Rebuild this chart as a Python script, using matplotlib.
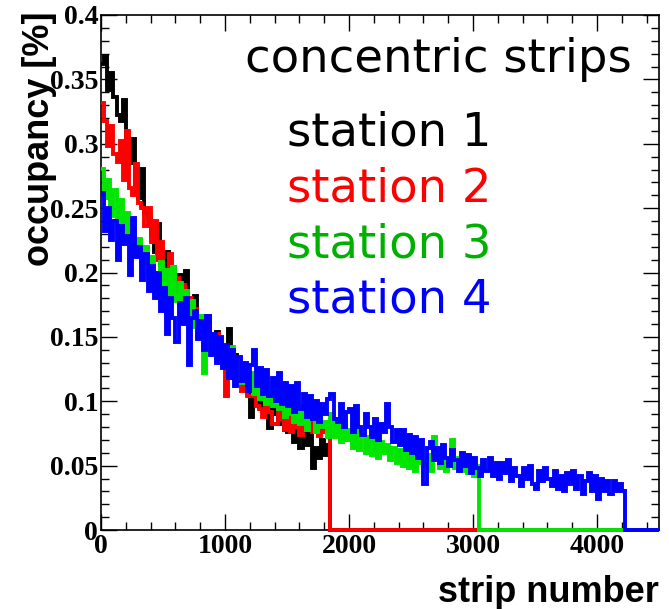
import numpy as np
import matplotlib
matplotlib.use('Agg')
import matplotlib.pyplot as plt
from matplotlib.ticker import MultipleLocator, FuncFormatter

# occupancy per bin of 25 strips, in units of 0.001 %
bin_width = 25
x_max = 4500

station1 = [362, 368, 342, 355, 336, 322, 318, 334, 292, 285, 304, 268,
            258, 280, 246, 243, 228, 216, 238, 206, 202, 216, 192, 204,
            186, 198, 176, 201, 172, 162, 182, 154, 162, 144, 160, 142,
            146, 154, 132, 142, 126, 156, 122, 136, 118, 112, 128, 106,
            88, 110, 100, 96, 108, 92, 79, 100, 90, 82, 98, 78,
            76, 90, 68, 84, 64, 80, 66, 76, 48, 64, 56, 70,
            58, 66]

station2 = [332, 318, 298, 314, 292, 286, 302, 272, 310, 266, 260, 284,
            254, 250, 236, 250, 224, 240, 210, 224, 202, 196, 214, 186,
            196, 178, 190, 168, 180, 160, 172, 154, 164, 148, 166, 142,
            138, 152, 132, 130, 104, 128, 118, 134, 116, 108, 126, 104,
            104, 116, 96, 94, 88, 104, 92, 82, 82, 94, 86, 78,
            88, 76, 92, 80, 74, 86, 78, 88, 76, 84, 73, 82,
            76, 80]

station3 = [280, 258, 272, 244, 264, 236, 256, 228, 246, 222, 240, 216,
            226, 206, 220, 198, 212, 192, 200, 208, 188, 202, 180, 204,
            178, 192, 168, 186, 160, 178, 158, 150, 166, 122, 152, 140,
            150, 132, 148, 128, 138, 124, 142, 118, 130, 114, 126, 110,
            122, 106, 118, 102, 112, 98, 114, 96, 106, 94, 108, 88,
            100, 90, 84, 98, 82, 96, 78, 98, 88, 76, 94, 80,
            84, 72, 90, 72, 82, 68, 84, 70, 78, 64, 80, 62,
            74, 60, 72, 58, 70, 56, 68, 60, 66, 54, 64, 52,
            62, 50, 60, 48, 60, 46, 58, 52, 50, 58, 46, 72,
            54, 48, 58, 46, 52, 70, 48, 56, 46, 54, 44, 52,
            42, 50]

station4 = [262, 232, 250, 225, 240, 210, 236, 222, 228, 198, 242, 212,
            220, 194, 214, 186, 205, 180, 200, 170, 188, 152, 180, 165,
            146, 176, 160, 180, 128, 165, 170, 148, 162, 140, 166, 136,
            152, 130, 150, 126, 144, 118, 140, 112, 134, 116, 130, 108,
            128, 140, 112, 126, 106, 124, 104, 118, 100, 122, 98, 114,
            96, 112, 92, 114, 94, 106, 88, 104, 86, 100, 84, 98,
            90, 102, 106, 86, 84, 98, 80, 92, 94, 76, 96, 80,
            74, 90, 80, 72, 86, 70, 82, 76, 98, 80, 68, 78,
            66, 78, 62, 74, 60, 72, 56, 70, 36, 64, 68, 54,
            64, 52, 66, 56, 50, 62, 54, 46, 60, 50, 58, 44,
            56, 48, 42, 54, 46, 56, 42, 52, 40, 52, 44, 54,
            38, 48, 42, 34, 48, 40, 50, 36, 32, 46, 38, 48,
            40, 34, 46, 32, 42, 30, 44, 36, 46, 32, 42, 28,
            38, 44, 30, 42, 24, 40, 30, 38, 28, 38, 30, 36,
            30]

stations = [station1, station2, station3, station4]
labels = ['station 1', 'station 2', 'station 3', 'station 4']
line_colors = ['black', '#ff0000', '#00e600', '#0000ff']
text_colors = ['black', '#ff0000', '#00b000', '#0000ff']

W, H = 669, 609
fig = plt.figure(figsize=(W / 100, H / 100), dpi=100)
ax = fig.add_axes([101 / W, 1 - 530 / H, 558 / W, 515 / H])

for vals, col in zip(stations, line_colors):
    occ = np.array(vals) / 1000.0
    edges = np.arange(len(occ) + 1) * bin_width
    # histogram continues at zero up to the end of the axis
    ax.stairs(np.append(occ, 0.0), np.append(edges, x_max),
              color=col, lw=2.8, baseline=None, zorder=3, clip_on=False)

ax.set_xlim(0, x_max)
ax.set_ylim(0, 0.4)

ax.xaxis.set_major_locator(MultipleLocator(1000))
ax.xaxis.set_minor_locator(MultipleLocator(200))
ax.yaxis.set_major_locator(MultipleLocator(0.05))
ax.yaxis.set_minor_locator(MultipleLocator(0.01))
ax.xaxis.set_major_formatter(FuncFormatter(lambda v, p: '%g' % v))
ax.yaxis.set_major_formatter(FuncFormatter(lambda v, p: '%g' % round(v, 2)))

ax.tick_params(which='both', direction='in', top=True, right=True, width=1.0)
ax.tick_params(which='major', length=11.5)
ax.tick_params(which='minor', length=6)
ax.tick_params(axis='x', pad=3)
ax.tick_params(axis='y', pad=2)
for s in ax.spines.values():
    s.set_linewidth(1.2)

for lab in ax.get_xticklabels() + ax.get_yticklabels():
    lab.set_family('Liberation Serif')
    lab.set_fontweight('bold')
    lab.set_fontsize(20)

fig.text(659 / W, 1 - 602 / H, 'strip number', ha='right', va='baseline',
         family='Liberation Sans', fontweight='bold', fontsize=26)
fig.text(40 / W, 1 - 12 / H, 'occupancy [%]', ha='center', va='top', rotation=90,
         family='Liberation Sans', fontweight='bold', fontsize=26)

fig.text(245 / W, 1 - 72 / H, 'concentric strips', ha='left', va='baseline',
         family='DejaVu Sans', fontsize=33.5, color='black')
for i, (lab, col) in enumerate(zip(labels, text_colors)):
    fig.text(287 / W, 1 - (146 + 55.6 * i) / H, lab, ha='left', va='baseline',
             family='DejaVu Sans', fontsize=33.5, color=col)

fig.savefig('out.png', dpi=100)
